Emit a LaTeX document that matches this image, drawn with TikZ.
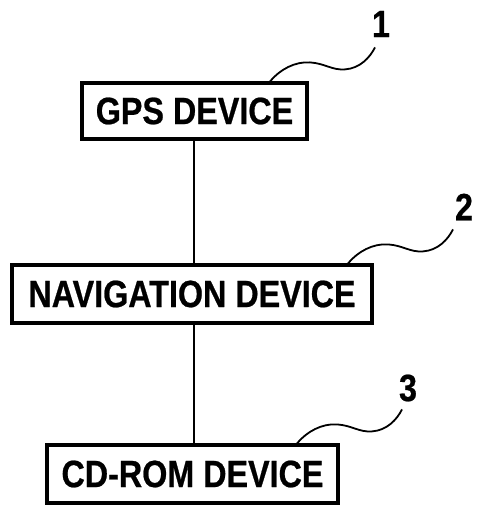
\documentclass[tikz,border=0pt]{standalone}
\usepackage{fontspec}
\setmainfont{Liberation Sans}[FakeStretch=0.85, FakeBold=0.6]
\begin{document}
\begin{tikzpicture}[x=1pt,y=-1pt,
  box/.style={draw, line width=3.2pt, inner sep=0pt, font=\fontsize{38}{40}\selectfont\bfseries},
  link/.style={line width=1.5pt},
  leader/.style={line width=1.8pt},
  num/.style={inner sep=0pt, font=\fontsize{38}{40}\selectfont\bfseries}]
\useasboundingbox (0,0) rectangle (479,505);
\node[box, minimum width=225pt, minimum height=56pt] (gps) at (194.5,111) {GPS DEVICE};
\node[box, minimum width=360pt, minimum height=58pt] (nav) at (192,294) {NAVIGATION DEVICE};
\node[box, minimum width=291pt, minimum height=58pt] (cd) at (192.5,474) {CD-ROM DEVICE};
\draw[link] (gps.south -| 194,0) -- (nav.north -| 194,0);
\draw[link] (nav.south -| 194,0) -- (cd.north -| 194,0);
\node[num] (n1) at (381,24) {1};
\node[num] (n2) at (464,207) {2};
\node[num] (n3) at (408,388) {3};
\coordinate (s1) at (gps.north -| 270,0);
\coordinate (s2) at (nav.north -| 348,0);
\coordinate (s3) at (cd.north -| 297,0);
\foreach \s in {s1,s2,s3}{
  \draw[leader, shift={(\s)}] (0,0) .. controls (10,-12) and (25,-20) .. (40,-19)
     .. controls (55,-18) and (62,-11) .. (75,-12)
     .. controls (90,-13) and (100,-24) .. (105,-34);
}
\end{tikzpicture}
\end{document}
